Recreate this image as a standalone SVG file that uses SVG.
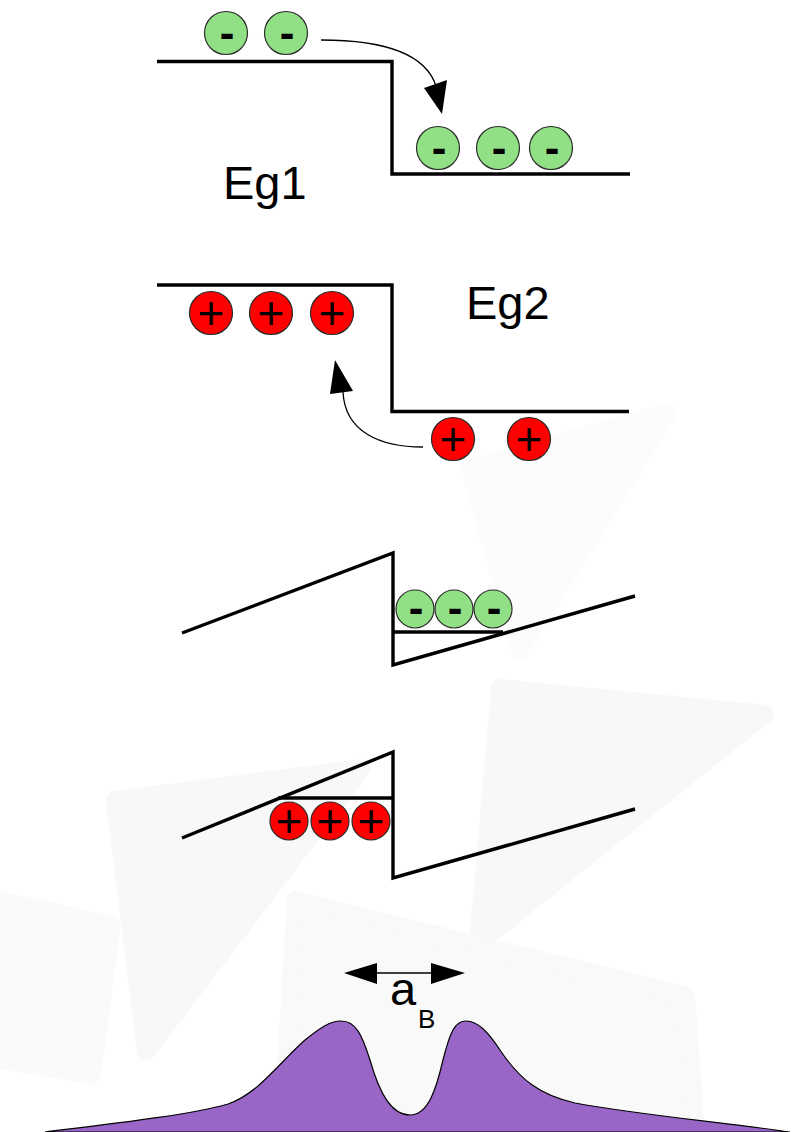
<svg xmlns="http://www.w3.org/2000/svg" width="795" height="1132" viewBox="0 0 795 1132">
<style>
.band{fill:none;stroke:#000;stroke-width:3.4;stroke-linecap:butt;stroke-linejoin:miter}
.el{fill:#92e085;stroke:#2a2a2a;stroke-width:1.2}
.ho{fill:#ff0000;stroke:#2a2a2a;stroke-width:1.2}
.mi{font-family:"Liberation Sans",Arial,sans-serif;font-weight:bold;font-size:44px;fill:#000;text-anchor:middle}
.pl{font-family:"Liberation Sans",Arial,sans-serif;font-size:46px;fill:#000;text-anchor:middle}
.lbl{font-family:"Liberation Sans",Arial,sans-serif;font-size:47px;fill:#000}
.sub{font-family:"Liberation Sans",Arial,sans-serif;font-size:26px;fill:#000}
.conn{fill:none;stroke:#000;stroke-width:1.3}
.bg{stroke-linejoin:round;stroke-width:18}
</style>
<rect width="795" height="1132" fill="#fff"/>
<g id="background">
<path class="bg" d="M668,412 L470,468 L520,650 Z" fill="#fcfcfc" stroke="#fcfcfc"/>
<path class="bg" d="M500,688 L765,714 L478,944 Z" fill="#f8f8f8" stroke="#f8f8f8"/>
<path class="bg" d="M115,800 L362,768 L146,1052 Z" fill="#f8f8f8" stroke="#f8f8f8"/>
<path class="bg" d="M0,900 L112,925 L92,1075 L0,1060 Z" fill="#fafafa" stroke="#fafafa"/>
<path class="bg" d="M296,900 L686,996 L696,1132 L282,1132 Z" fill="#f9f9f9" stroke="#f9f9f9"/>
</g>
<g id="bands">
<path class="band" d="M157,61.5 H392 V174 H630"/>
<path class="band" d="M157,285 H392 V411.5 H629"/>
<path class="band" d="M182,633 L393,553 V665 L635,596"/>
<path class="band" d="M393,632 H503"/>
<path class="band" d="M182,838 L393,752 V878 L635,809"/>
<path class="band" d="M278,798 H393"/>
</g>
<g id="labels">
<text class="lbl" x="223" y="199">Eg1</text>
<text class="lbl" x="466" y="319">Eg2</text>
</g>
<g id="e1"><circle class="el" cx="226" cy="33" r="21.5"/><text class="mi" x="227" y="48">-</text></g>
<g id="e2"><circle class="el" cx="286" cy="33" r="21.5"/><text class="mi" x="287" y="48">-</text></g>
<g id="e3"><circle class="el" cx="438" cy="148" r="21.5"/><text class="mi" x="439" y="163">-</text></g>
<g id="e4"><circle class="el" cx="498" cy="148" r="21.5"/><text class="mi" x="499" y="163">-</text></g>
<g id="e5"><circle class="el" cx="551" cy="148" r="21.5"/><text class="mi" x="552" y="163">-</text></g>
<g id="h1"><circle class="ho" cx="211" cy="313" r="21.5"/><text class="pl" x="211" y="329">+</text></g>
<g id="h2"><circle class="ho" cx="271" cy="313" r="21.5"/><text class="pl" x="271" y="329">+</text></g>
<g id="h3"><circle class="ho" cx="332" cy="313" r="21.5"/><text class="pl" x="332" y="329">+</text></g>
<g id="h4"><circle class="ho" cx="453" cy="439" r="21.5"/><text class="pl" x="453" y="455">+</text></g>
<g id="h5"><circle class="ho" cx="529" cy="439" r="21.5"/><text class="pl" x="529" y="455">+</text></g>
<g id="e6"><circle class="el" cx="415" cy="609" r="19"/><text class="mi" x="416" y="623">-</text></g>
<g id="e7"><circle class="el" cx="454" cy="609" r="19"/><text class="mi" x="455" y="623">-</text></g>
<g id="e8"><circle class="el" cx="493" cy="609" r="19"/><text class="mi" x="494" y="623">-</text></g>
<g id="h6"><circle class="ho" cx="289" cy="821" r="19"/><text class="pl" x="289" y="837">+</text></g>
<g id="h7"><circle class="ho" cx="330" cy="821" r="19"/><text class="pl" x="330" y="837">+</text></g>
<g id="h8"><circle class="ho" cx="371" cy="821" r="19"/><text class="pl" x="371" y="837">+</text></g>
<g id="connectors">
<path class="conn" d="M321,40 C380,40 425,52 436,86"/>
<polygon points="424,88 447,80 442,114" fill="#000"/>
<path class="conn" d="M423,447 C380,447 345,432 343,392"/>
<polygon points="330,394 353,391 335,360" fill="#000"/>
<path class="conn" d="M376,973 H432"/>
<polygon points="344,973 377,963 377,984" fill="#000"/>
<polygon points="465,973 431,963 431,984" fill="#000"/>
</g>
<g id="aB">
<text class="lbl" x="390" y="1005">a</text>
<text class="sub" x="418" y="1028">B</text>
</g>
<g id="density">
<path d="M45,1132 C110,1124 190,1115 228,1104 C258,1094 280,1062 305,1040 C320,1028 330,1021 341,1021 C356,1021 362,1035 370,1060 C380,1095 392,1115 410,1115 C428,1115 436,1090 443,1060 C450,1032 455,1021 466,1021 C478,1021 488,1032 500,1050 C520,1080 540,1095 575,1103 C640,1115 720,1122 790,1132 Z" fill="#9966c8" stroke="#000" stroke-width="1.2"/>
</g>
</svg>
